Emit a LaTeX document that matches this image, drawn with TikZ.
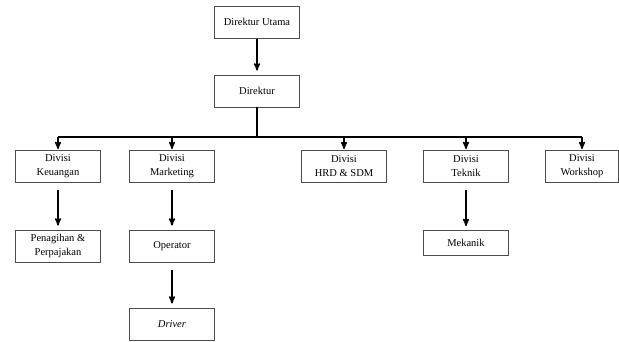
\documentclass[tikz,border=0pt]{standalone}
\usepackage{fontspec}
\setmainfont{Liberation Serif}
\usetikzlibrary{arrows,positioning}

\begin{document}
\begin{tikzpicture}[x=1pt,y=-1pt,
	  every node/.style={align=center,font=\fontsize{10.5}{14}\selectfont},
	  jabatan/.style={draw=black!70,line width=0.8pt,minimum width=85pt,minimum height=32pt,inner sep=1pt},
	  garis/.style={line width=1.5pt},
	  to/.style={->,>=stealth',line width=1.5pt,shorten >=4pt,shorten <=8pt}]

	  \useasboundingbox (0,0) rectangle (619,341);

	  % Top of the organisation
	  \node[jabatan] (utama) at (257,22) {Direktur Utama};
	  \node[jabatan] (direktur) at (257,91) {Direktur};
	  \coordinate (bus) at (257,137);

	  % Divisions
	  \node[jabatan] (keuangan) at (58,166) {Divisi\\Keuangan};
	  \node[jabatan] (marketing) at (172,166) {Divisi\\Marketing};
	  \node[jabatan] (hrd) at (344,166) {Divisi\\HRD \& SDM};
	  \node[jabatan] (teknik) at (466,166) {Divisi\\Teknik};
	  \node[jabatan,minimum width=73pt] (workshop) at (582,166) {Divisi\\Workshop};

	  % Under the divisions
	  \node[jabatan] (penagihan) at (58,246) {Penagihan \&\\Perpajakan};
	  \node[jabatan] (operator) at (172,246) {Operator};
	  \node[jabatan,minimum height=25pt] (mekanik) at (466,243) {Mekanik};
	  \node[jabatan] (driver) at (172,324) {\textit{Driver}};

	  \draw[to,shorten <=1pt] (utama) -- (direktur);
	  \draw[garis] (direktur) -- (bus);
	  \draw[garis] (bus -| keuangan) -- (bus -| workshop);
	  \foreach \d in {keuangan,marketing,hrd,teknik,workshop}
	    \draw[to,shorten <=0pt,shorten >=0.5pt] (bus -| \d) -- (\d);
	  \draw[to] (keuangan) -- (penagihan);
	  \draw[to] (marketing) -- (operator);
	  \draw[to] (teknik) -- (mekanik);
	  \draw[to] (operator) -- (driver);
\end{tikzpicture}
\end{document}
